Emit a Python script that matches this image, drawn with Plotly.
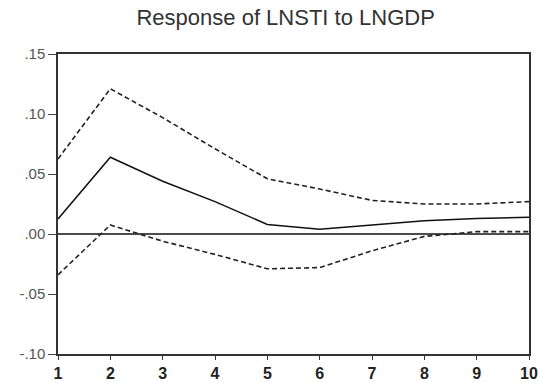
import plotly.graph_objects as go

periods = [1, 2, 3, 4, 5, 6, 7, 8, 9, 10]
response = [0.0125, 0.064, 0.044, 0.027, 0.008, 0.004, 0.0075, 0.011, 0.013, 0.014]
upper = [0.0625, 0.121, 0.097, 0.071, 0.046, 0.0375, 0.028, 0.025, 0.025, 0.027]
lower = [-0.034, 0.0075, -0.006, -0.017, -0.029, -0.028, -0.014, -0.002, 0.002, 0.002]
y_ticks = [-0.10, -0.05, 0.00, 0.05, 0.10, 0.15]
y_tick_labels = ["-.10", "-.05", ".00", ".05", ".10", ".15"]

fig = go.Figure()
fig.add_trace(go.Scatter(x=[periods[0], periods[-1]], y=[0, 0], mode="lines",
                         line=dict(color="#111", width=1.6), hoverinfo="skip"))
fig.add_trace(go.Scatter(x=periods, y=upper, mode="lines",
                         line=dict(color="#222", width=1.6, dash="5px,3px")))
fig.add_trace(go.Scatter(x=periods, y=lower, mode="lines",
                         line=dict(color="#222", width=1.6, dash="5px,3px")))
fig.add_trace(go.Scatter(x=periods, y=response, mode="lines",
                         line=dict(color="#111", width=1.5)))

fig.update_layout(
    width=539, height=383,
    margin=dict(l=58, r=10, t=54, b=29, autoexpand=False),
    paper_bgcolor="white", plot_bgcolor="white",
    showlegend=False,
    title=dict(text="Response of LNSTI to LNGDP", x=0.53, xanchor="center",
               y=0.955, yanchor="middle",
               font=dict(family="Liberation Sans, Arial", size=22, color="#333")),
    font=dict(family="Liberation Sans, Arial", size=12, color="#222"),
)
fig.update_xaxes(range=[1, 10], tickmode="array", tickvals=periods,
                 ticktext=[str(p) for p in periods], automargin=False,
                 ticklabeloverflow="allow",
                 showgrid=False, zeroline=False, showline=True, linecolor="#333",
                 linewidth=1.5, mirror=True, ticks="outside", ticklen=4,
                 tickcolor="#333",
                 tickfont=dict(size=16, color="#222", weight="bold"))
fig.update_yaxes(range=[-0.10, 0.15], tickmode="array", tickvals=y_ticks,
                 ticktext=y_tick_labels, automargin=False,
                 ticklabeloverflow="allow",
                 showgrid=False, zeroline=False, showline=True, linecolor="#333",
                 linewidth=1.5, mirror=True, ticks="outside", ticklen=8,
                 tickcolor="#444", tickfont=dict(size=15, color="#555"))

fig.write_html("out.html", config={"displayModeBar": False},
               post_script="document.body.style.margin='0';document.body.style.overflow='hidden';")
